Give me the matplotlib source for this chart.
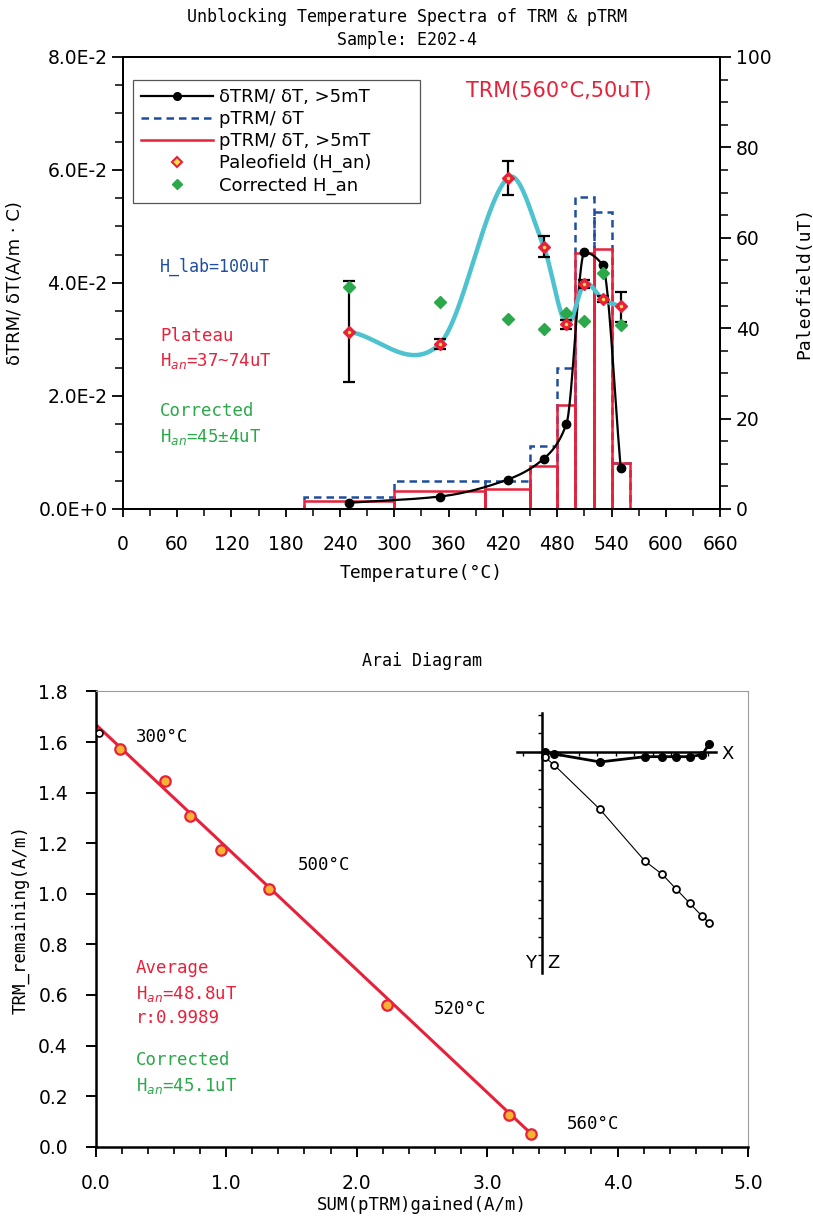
import numpy as np
import matplotlib
matplotlib.use("Agg")
import matplotlib.pyplot as plt
from matplotlib.lines import Line2D

# ---- data: unblocking spectra (top panel) ----
bin_lo = [200, 300, 400, 450, 480, 500, 520, 540]
bin_hi = [300, 400, 450, 480, 500, 520, 540, 560]
ptrm_all = [0.00207, 0.00496, 0.00496, 0.01115, 0.0249, 0.0552, 0.0525, 0.0082]   # pTRM/dT (blue dashed)
ptrm_5mt = [0.00147, 0.00324, 0.00354, 0.00761, 0.0184, 0.04525, 0.0461, 0.0082]  # pTRM/dT >5mT (red)

temp_mid = [250, 350, 425, 465, 490, 510, 530, 550]
dtrm = [0.0011, 0.0022, 0.0052, 0.0089, 0.0150, 0.0454, 0.0432, 0.0073]
paleo = [39.2, 36.5, 73.2, 58.0, 40.9, 49.8, 46.4, 44.8]
paleo_lo = [28.2, 35.4, 69.5, 55.7, 39.8, 48.9, 45.7, 41.4]
paleo_hi = [50.5, 37.6, 77.0, 60.4, 41.8, 50.7, 47.1, 47.9]
corrected = [49.2, 45.9, 42.1, 39.8, 43.4, 41.6, 52.3, 40.7]

x_ticks = [0, 60, 120, 180, 240, 300, 360, 420, 480, 540, 600, 660]
y_ticks = [0, 0.02, 0.04, 0.06, 0.08]
y_tick_labels = ["0.0E+0", "2.0E-2", "4.0E-2", "6.0E-2", "8.0E-2"]

# ---- data: Arai diagram (bottom panel) ----
ptrm_gained = [0.19, 0.533, 0.723, 0.958, 1.328, 2.235, 3.165, 3.338]
trm_remaining = [1.572, 1.445, 1.308, 1.173, 1.019, 0.560, 0.125, 0.049]
nrm_x, nrm_y = 0.025, 1.634
fit_x = [0.0, 3.36]
fit_intercept = 1.67
fit_slope = -0.485

# ---- data: inset Zijderveld ----
zij_x = [0.036, 0.136, 0.630, 1.117, 1.304, 1.452, 1.603, 1.736, 1.812]
zij_h = [-0.003, -0.025, -0.111, -0.054, -0.054, -0.054, -0.054, -0.032, 0.083]
zij_v = [-0.061, -0.144, -0.623, -1.182, -1.325, -1.481, -1.639, -1.779, -1.849]

RED = "#e8213b"
BLUE = "#1f4e9e"
GREEN = "#2aa84a"
CYAN = "#4ec3cf"
ORANGE = "#f9b233"
MONO = "DejaVu Sans Mono"


def hermite(x, y, m, n=400):
    # cubic hermite drawing line through the measured points
    x, y, m = (np.asarray(v, float) for v in (x, y, m))
    xs = np.linspace(x[0], x[-1], n)
    i = np.clip(np.searchsorted(x, xs) - 1, 0, len(x) - 2)
    h = x[i + 1] - x[i]
    t = (xs - x[i]) / h
    h00 = 2 * t**3 - 3 * t**2 + 1
    h10 = t**3 - 2 * t**2 + t
    h01 = -2 * t**3 + 3 * t**2
    h11 = t**3 - t**2
    return xs, h00 * y[i] + h10 * h * m[i] + h01 * y[i + 1] + h11 * h * m[i + 1]


def catmull_slopes(x, y):
    x, y = np.asarray(x, float), np.asarray(y, float)
    m = np.empty_like(y)
    m[1:-1] = (y[2:] - y[:-2]) / (x[2:] - x[:-2])
    m[0] = (y[1] - y[0]) / (x[1] - x[0])
    m[-1] = (y[-1] - y[-2]) / (x[-1] - x[-2])
    return m


def pchip_slopes(x, y):
    x, y = np.asarray(x, float), np.asarray(y, float)
    h = np.diff(x)
    d = np.diff(y) / h
    m = np.zeros_like(y)
    for k in range(1, len(x) - 1):
        if d[k - 1] * d[k] > 0:
            w1 = 2 * h[k] + h[k - 1]
            w2 = h[k] + 2 * h[k - 1]
            m[k] = (w1 + w2) / (w1 / d[k - 1] + w2 / d[k])
    m[0], m[-1] = d[0], d[-1]
    return m


fig = plt.figure(figsize=(8.13, 12.2), dpi=100)

# ================= top panel =================
ax1 = fig.add_axes([0.1509, 0.5828, 0.7351, 0.3705])
ax2 = ax1.twinx()

widths = np.array(bin_hi) - np.array(bin_lo)
ax1.bar(bin_lo, ptrm_all, width=widths, align="edge", fill=False,
        edgecolor=BLUE, linestyle=(0, (3, 2)), linewidth=1.8, zorder=2)
ax1.bar(bin_lo, ptrm_5mt, width=widths, align="edge", fill=False,
        edgecolor=RED, linewidth=1.8, zorder=3)

sx, sy = hermite(temp_mid, dtrm, pchip_slopes(temp_mid, dtrm))
ax1.plot(sx, sy, color="black", lw=1.6, zorder=4)
ax1.plot(temp_mid, dtrm, "o", color="black", ms=6, zorder=5)

cx, cy = hermite(temp_mid, paleo, catmull_slopes(temp_mid, paleo))
ax2.plot(cx, cy, color=CYAN, lw=3.2, zorder=2)
err = [np.array(paleo) - np.array(paleo_lo), np.array(paleo_hi) - np.array(paleo)]
ax2.errorbar(temp_mid, paleo, yerr=err, fmt="none", ecolor="black",
             elinewidth=1.6, capsize=4.5, capthick=1.6, zorder=3)
ax2.plot(temp_mid, corrected, "D", color=GREEN, ms=6, zorder=4)
ax2.plot(temp_mid, paleo, "D", color=RED, ms=6.5, zorder=5)
ax2.plot(temp_mid, paleo, ".", color="#ffe04a", ms=3, zorder=6)

ax1.set_xlim(0, 660)
ax1.set_ylim(0, 0.08)
ax2.set_ylim(0, 100)
ax1.set_xticks(x_ticks)
ax1.set_xticks(np.arange(0, 661, 30), minor=True)
ax1.set_yticks(y_ticks)
ax1.set_yticklabels(y_tick_labels)
ax1.set_yticks(np.arange(0, 0.0801, 0.005), minor=True)
ax2.set_yticks([0, 20, 40, 60, 80, 100])
ax2.set_yticks(np.arange(0, 101, 5), minor=True)
for a in (ax1, ax2):
    a.tick_params(which="major", direction="out", length=8, width=1.3, labelsize=13.5, pad=3)
    a.tick_params(which="minor", direction="out", length=5.5, width=1.1)
    for s in a.spines.values():
        s.set_linewidth(1.4)
ax1.tick_params(axis="x", which="major", length=6, pad=13)
ax1.tick_params(axis="x", which="minor", length=5)

ax1.set_xlabel("Temperature(°C)", fontsize=13, family=MONO, labelpad=7)
ax1.set_ylabel("δTRM/ δT(A/m · C)", fontsize=13, labelpad=10)
ax2.set_ylabel("Paleofield(uT)", fontsize=13, family=MONO, labelpad=17)

handles = [
    Line2D([], [], color="black", lw=1.6, marker="o", ms=5.5),
    Line2D([], [], color=BLUE, lw=1.8, linestyle=(0, (3, 2))),
    Line2D([], [], color=RED, lw=1.8),
    Line2D([], [], color=RED, marker="D", ms=5, lw=0, markerfacecolor="#ffe04a", markeredgewidth=1.5),
    Line2D([], [], color=GREEN, marker="D", ms=5, lw=0),
]
labels = ["δTRM/ δT, >5mT", "pTRM/ δT", "pTRM/ δT, >5mT",
          "Paleofield (H_an)", "Corrected H_an"]
leg = ax2.legend(handles, labels, loc="upper left", mode="expand",
                 bbox_to_anchor=(0.017, 0.666, 0.48, 0.283), borderaxespad=0,
                 fontsize=13, handlelength=4.0, handletextpad=0.3, labelspacing=0.22,
                 borderpad=0.45, fancybox=False, framealpha=1, edgecolor="#555555")
leg.get_frame().set_linewidth(0.9)

ax1.text(0.575, 0.925, "TRM(560°C,50uT)", transform=ax1.transAxes, color=RED,
         fontsize=15, ha="left", va="center")
ax1.text(0.063, 0.535, "H_lab=100uT", transform=ax1.transAxes, color=BLUE,
         fontsize=12, family=MONO, va="center")
ax1.text(0.063, 0.383, "Plateau", transform=ax1.transAxes, color=RED,
         fontsize=12.5, family=MONO, va="center")
ax1.text(0.063, 0.328, r"H$_{an}$=37~74uT", transform=ax1.transAxes, color=RED,
         fontsize=12.5, family=MONO, va="center")
ax1.text(0.063, 0.216, "Corrected", transform=ax1.transAxes, color=GREEN,
         fontsize=12.5, family=MONO, va="center")
ax1.text(0.063, 0.160, r"H$_{an}$=45±4uT", transform=ax1.transAxes, color=GREEN,
         fontsize=12.5, family=MONO, va="center")

fig.text(0.5, 0.986, "Unblocking Temperature Spectra of TRM & pTRM", ha="center",
         va="center", fontsize=12, family=MONO)
fig.text(0.5, 0.967, "Sample: E202-4", ha="center", va="center", fontsize=12, family=MONO)

# ================= bottom panel =================
ax3 = fig.add_axes([0.1177, 0.0601, 0.8023, 0.3731])
fx = np.array(fit_x)
ax3.plot(fx, fit_intercept + fit_slope * fx, color=RED, lw=2.2, zorder=2)
ax3.plot(ptrm_gained, trm_remaining, "o", ms=7.5, markerfacecolor=ORANGE,
         markeredgecolor=RED, markeredgewidth=1.6, zorder=3)
ax3.plot(nrm_x, nrm_y, "o", ms=5, markerfacecolor="white", markeredgecolor="black",
         markeredgewidth=1.2, zorder=3)
ax3.set_xlim(0, 5)
ax3.set_ylim(0, 1.8)
ax3.set_xticks([0, 1, 2, 3, 4, 5])
ax3.set_xticklabels(["0.0", "1.0", "2.0", "3.0", "4.0", "5.0"])
ax3.set_xticks(np.arange(0, 5.01, 0.2), minor=True)
ax3.set_yticks(np.arange(0, 1.81, 0.2))
ax3.set_yticklabels([f"{v:.1f}" for v in np.arange(0, 1.81, 0.2)])
ax3.tick_params(which="major", direction="out", length=7, width=1.4, labelsize=13.5, pad=13)
ax3.tick_params(which="minor", direction="out", length=5, width=1.2)
ax3.spines["left"].set_linewidth(1.8)
ax3.spines["bottom"].set_linewidth(1.8)
ax3.spines["top"].set_color("#9a9a9a")
ax3.spines["right"].set_color("#9a9a9a")
ax3.set_xlabel("SUM(pTRM)gained(A/m)", fontsize=12.5, family=MONO, labelpad=2)
ax3.set_ylabel("TRM_remaining(A/m)", fontsize=12.5, family=MONO, labelpad=6)
ax3.set_title("Arai Diagram", fontsize=12, family=MONO, pad=18)

for tx, ty, s in [(0.31, 1.62, "300°C"), (1.55, 1.113, "500°C"),
                  (2.59, 0.544, "520°C"), (3.61, 0.09, "560°C")]:
    ax3.text(tx, ty, s, fontsize=12.5, family=MONO, va="center")

ax3.text(0.31, 0.707, "Average", color=RED, fontsize=12.5, family=MONO, va="center")
ax3.text(0.31, 0.605, r"H$_{an}$=48.8uT", color=RED, fontsize=12.5, family=MONO, va="center")
ax3.text(0.31, 0.508, "r:0.9989", color=RED, fontsize=12.5, family=MONO, va="center")
ax3.text(0.31, 0.342, "Corrected", color=GREEN, fontsize=12.5, family=MONO, va="center")
ax3.text(0.31, 0.240, r"H$_{an}$=45.1uT", color=GREEN, fontsize=12.5, family=MONO, va="center")

# ---- inset vector plot ----
ax_in = fig.add_axes([0.6355, 0.2025, 0.2451, 0.2131])
ax_in.patch.set_visible(False)
ax_in.plot(zij_x, zij_h, "-o", color="black", lw=2, ms=5.5)
ax_in.plot(zij_x, zij_v, "-o", color="black", lw=0.8, ms=5,
           markerfacecolor="white", markeredgewidth=1.3)
ax_in.set_xlim(-0.27, 1.884)
ax_in.set_ylim(-2.39, 0.418)
ax_in.spines["left"].set_position(("data", 0))
ax_in.spines["bottom"].set_position(("data", 0))
ax_in.spines["top"].set_visible(False)
ax_in.spines["right"].set_visible(False)
ax_in.spines["left"].set_linewidth(1.8)
ax_in.spines["bottom"].set_linewidth(1.8)
ax_in.set_xticks(np.arange(-0.2, 1.81, 0.2))
ax_in.set_yticks(np.arange(-2.2, 0.41, 0.2))
ax_in.tick_params(direction="out", length=3, width=1, labelleft=False, labelbottom=False)
ax_in.text(1.94, -0.03, "X", fontsize=13, va="center", ha="left", clip_on=False)
ax_in.text(-0.116, -2.285, "Y", fontsize=13, va="center", ha="center", clip_on=False)
ax_in.text(0.122, -2.285, "Z", fontsize=13, va="center", ha="center", clip_on=False)

fig.savefig("out.png", dpi=100)
